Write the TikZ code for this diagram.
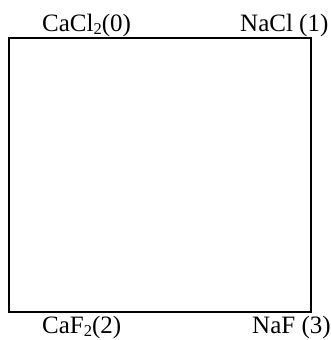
\documentclass[tikz,border=0pt]{standalone}
\usepackage{fontspec}
\setmainfont{Liberation Serif}
% subscript digit in the text font, dropped a little below the baseline
\newcommand{\chemsub}[1]{\raisebox{-3pt}{\fontsize{16.5}{18}\selectfont #1}}
\begin{document}
\begin{tikzpicture}[x=1pt,y=1pt,
  corner/.style={inner sep=0pt, anchor=base west, font=\fontsize{25}{29}\selectfont},
  frame/.style={line width=2pt, draw=black}]
\useasboundingbox (0,0) rectangle (330,340);
% square of the four compounds
\coordinate (tl) at (9,302);
\coordinate (br) at (311,28);
\draw[frame] (tl) rectangle (br);
% corner labels
\node[corner] (c0) at (42,308) {CaCl\chemsub{2}(0)};
\node[corner] (c1) at (240,308) {NaCl (1)};
\node[corner] (c2) at (42,6) {CaF\chemsub{2}(2)};
\node[corner] (c3) at (252,6) {NaF (3)};
\end{tikzpicture}
\end{document}
